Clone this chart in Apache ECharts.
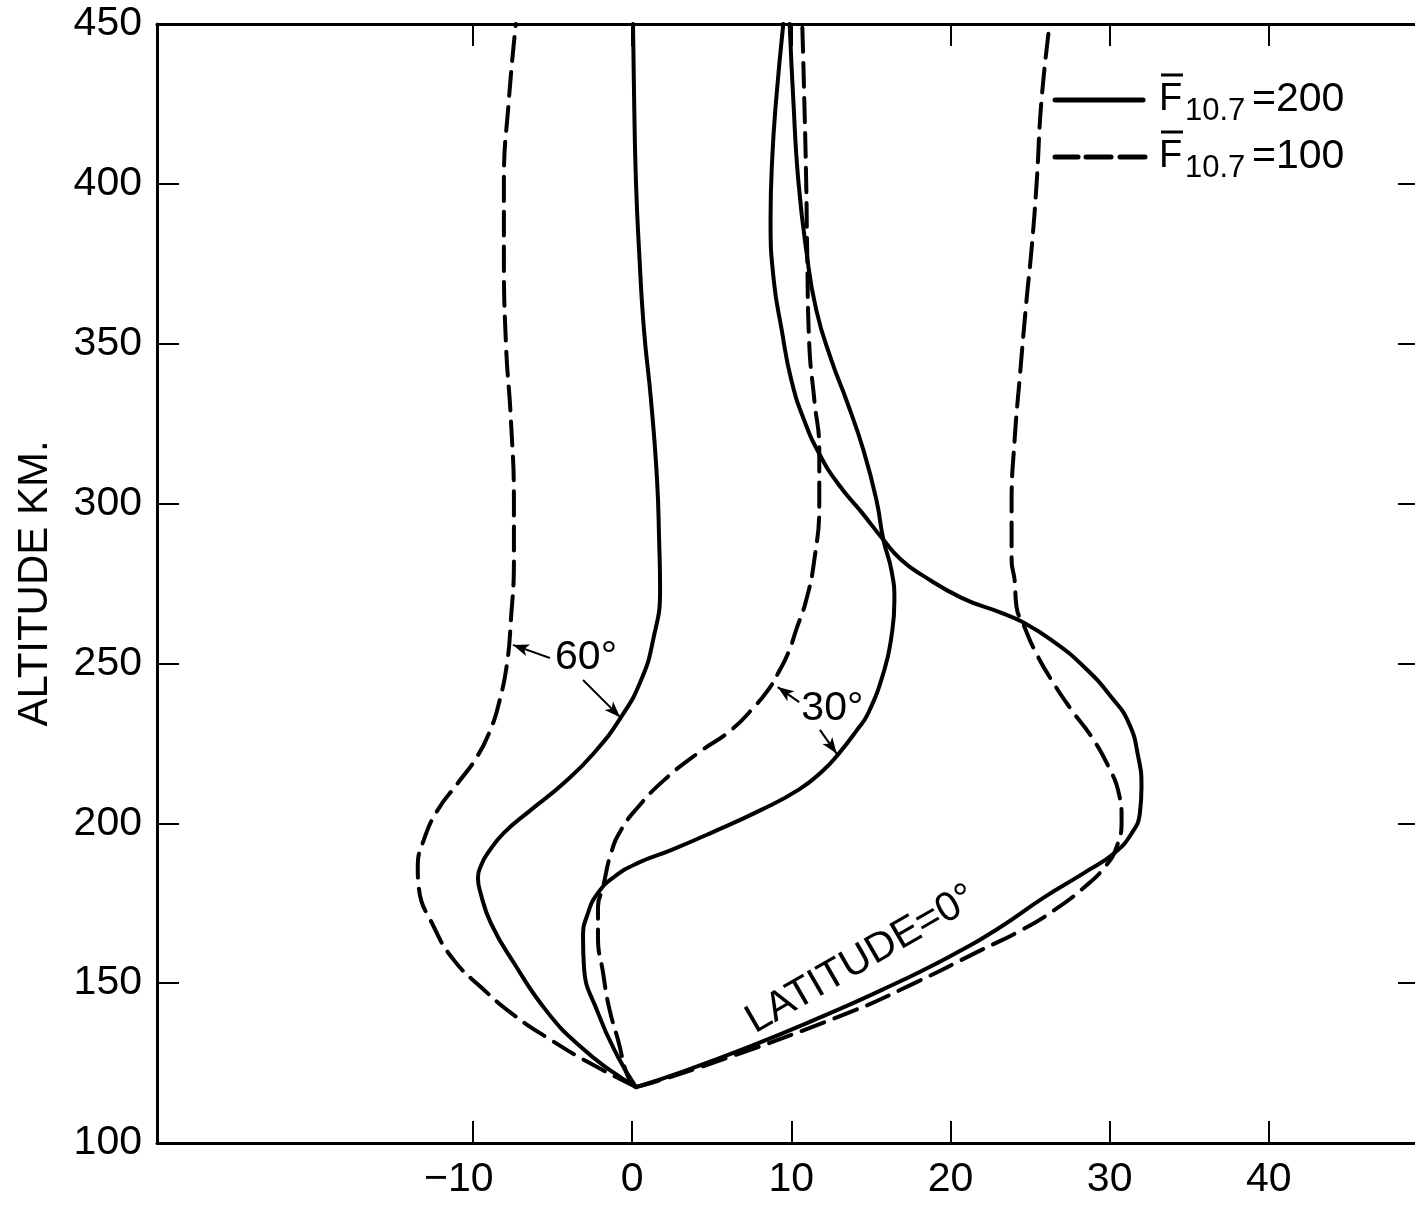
<!DOCTYPE html>
<html>
<head>
<meta charset="utf-8">
<script src="https://cdn.jsdelivr.net/npm/echarts@6/dist/echarts.min.js"></script>
<style>
  html, body { margin: 0; padding: 0; background: #fff; }
  #chart { width: 1415px; height: 1205px; }
</style>
</head>
<body>
<div id="chart"></div>
<script>
// Axis ticks and labels
const xTickValues = [-10, 0, 10, 20, 30, 40];
const xTopTickValues = [-10, 0, 10, 20, 30, 40];
const yLabelValues = [100, 150, 200, 250, 300, 350, 400, 450];
const yInnerTickValues = [150, 200, 250, 300, 350, 400];

// Profiles as [value, altitude km]; solid = F10.7 200, dashed = F10.7 100
const lat60Solid = [
  [0.25, 117.5], [-1.13, 121.9], [-3.21, 130.0], [-5.28, 140.7], [-7.42, 156.3],
  [-8.87, 168.8], [-9.55, 178.8], [-9.68, 183.0], [-9.45, 187.2], [-9.06, 190.7],
  [-8.05, 197.0], [-6.35, 204.2], [-4.28, 212.6], [-2.39, 222.0], [-0.69, 233.2],
  [0.57, 244.8], [1.32, 257.3], [1.76, 273.0], [1.70, 288.6], [1.57, 307.4],
  [1.19, 332.4], [0.75, 354.3], [0.44, 379.3], [0.25, 400.0], [0.13, 426.2], [0.06, 450.0]
];
const lat60Dashed = [
  [0.25, 117.5], [-2.77, 125.3], [-5.09, 132.2], [-7.42, 140.0], [-9.50, 148.8],
  [-11.19, 157.2], [-12.45, 167.6], [-13.40, 180.1], [-13.46, 186.3], [-13.08, 194.8],
  [-12.20, 204.2], [-10.94, 212.6], [-9.75, 220.7], [-8.90, 229.2], [-8.36, 237.6],
  [-7.86, 249.8], [-7.61, 263.6], [-7.42, 282.4], [-7.42, 299.9], [-7.61, 326.2],
  [-7.92, 349.9], [-8.05, 379.3], [-8.05, 400.0], [-7.74, 426.2], [-7.30, 450.0]
];
const lat30Solid = [
  [0.25, 117.5], [-0.88, 126.9], [-2.14, 140.7], [-3.02, 155.1], [-3.08, 164.4],
  [-2.77, 171.9], [-2.14, 178.2], [-1.13, 183.2], [0.38, 187.6], [2.45, 191.6],
  [4.97, 197.0], [8.11, 204.2], [10.50, 210.6], [12.00, 216.5], [13.10, 222.5],
  [14.10, 229.0], [14.84, 234.5], [15.85, 248.0], [16.29, 258.3], [16.48, 269.8],
  [16.29, 279.2], [15.79, 288.6], [15.35, 301.1], [14.53, 316.8], [13.46, 332.4],
  [12.52, 344.9], [11.57, 360.6], [10.94, 379.3], [10.44, 401.2], [10.13, 426.2], [9.90, 450.0]
];
const lat30Dashed = [
  [0.25, 117.5], [-0.25, 120.6], [-0.88, 132.2], [-1.45, 142.5], [-1.82, 153.2],
  [-2.14, 164.4], [-2.14, 173.8], [-1.82, 180.1], [-1.32, 190.7], [-0.69, 197.9],
  [0.38, 205.1], [2.01, 213.5], [4.15, 222.0], [6.23, 229.2], [7.67, 236.4],
  [8.55, 241.7], [9.18, 247.0], [9.81, 253.3], [10.31, 260.5], [10.94, 269.8],
  [11.45, 282.4], [11.76, 299.9], [11.76, 316.8], [11.45, 332.4], [11.13, 349.9],
  [11.00, 379.3], [10.94, 400.0], [10.82, 426.2], [10.69, 450.0]
];
const lat0Solid = [
  [0.25, 117.5], [3.10, 122.2], [7.30, 130.0], [11.45, 138.5], [15.70, 147.9],
  [19.90, 158.2], [23.10, 167.4], [25.90, 176.9], [28.40, 184.5], [30.30, 190.7],
  [31.40, 197.0], [31.90, 203.2], [32.00, 211.4], [31.80, 220.7], [31.20, 231.4],
  [30.10, 239.5], [28.40, 248.9], [26.35, 257.3], [24.50, 263.0], [23.20, 265.8],
  [20.70, 270.5], [18.20, 277.7], [16.90, 282.4], [15.80, 288.6], [14.40, 297.4],
  [13.00, 305.8], [11.80, 315.2], [10.80, 326.2], [10.00, 338.7], [9.40, 354.3],
  [8.90, 369.9], [8.70, 388.7], [8.80, 407.5], [9.05, 426.2], [9.50, 450.0]
];
const lat0Dashed = [
  [0.25, 117.5], [4.34, 123.8], [13.58, 140.7], [17.74, 150.0], [21.95, 160.4],
  [24.47, 166.6], [26.54, 172.9], [28.43, 180.1], [29.69, 186.3], [30.44, 192.6],
  [30.75, 201.0], [30.57, 209.5], [29.94, 217.6], [28.87, 227.0], [27.61, 235.4],
  [26.35, 244.8], [25.28, 254.2], [24.65, 261.4], [24.15, 267.7], [24.03, 276.1],
  [23.84, 282.4], [23.84, 299.9], [24.03, 319.9], [24.34, 338.7], [24.78, 363.7],
  [25.09, 379.3], [25.41, 400.0], [25.72, 426.2], [26.23, 450.0]
];

// Curve annotations (data coordinates)
const labelTexts = [
  { text: '60°', at: [-2.89, 251.7], rotate: 0 },
  { text: '30°', at: [12.58, 235.8], rotate: 0 },
  { text: 'LATITUDE=0°', at: [14.4, 157.4], rotate: 30 }
];
const arrowLines = [
  { from: [-5.16, 251.7], to: [-7.48, 255.8], curve: 0 },
  { from: [-3.08, 244.8], to: [-0.75, 233.2], curve: -0.25 },
  { from: [10.5, 237.9], to: [9.15, 242.6], curve: 0 },
  { from: [11.8, 229.2], to: [12.85, 221.8], curve: 0 }
];

const FONT = "'Liberation Sans', Arial, sans-serif";
const INK = '#000';
const DASH = [24, 11];

function profile(name, data, dashed) {
  return {
    name: name,
    type: 'line',
    data: data,
    xAxisIndex: 0,
    yAxisIndex: 0,
    showSymbol: false,
    symbol: 'none',
    smooth: 0.5,
    silent: true,
    lineStyle: { color: INK, width: 4, type: dashed ? DASH : 'solid', cap: 'round' },
    emphasis: { disabled: true }
  };
}

const series = [
  profile('60 solid', lat60Solid, false),
  profile('60 dashed', lat60Dashed, true),
  profile('30 solid', lat30Solid, false),
  profile('30 dashed', lat30Dashed, true),
  profile('0 solid', lat0Solid, false),
  profile('0 dashed', lat0Dashed, true)
];

series[0].markLine = {
  silent: true,
  animation: false,
  label: { show: false },
  emphasis: { disabled: true },
  lineStyle: { color: INK, width: 2, type: 'solid' },
  data: arrowLines.map(a => [
    { coord: a.from, symbol: 'none', lineStyle: { curveness: a.curve } },
    { coord: a.to, symbol: 'arrow', symbolSize: [9, 16] }
  ])
};

// The frame runs on past the right edge of the page, so the visible range
// stops just short of the right-hand axis line.
const X_MIN = -29.84, X_MAX = 49.18;

const option = {
  animation: false,
  backgroundColor: '#fff',
  grid: { left: 157, right: 0, top: 24, bottom: 62, containLabel: false, outerBoundsMode: 'none' },
  xAxis: [
    {
      type: 'value', position: 'bottom', min: X_MIN, max: X_MAX,
      axisLine: { show: true, onZero: false, lineStyle: { color: INK, width: 3 } },
      axisTick: { show: true, inside: true, length: 22, customValues: xTickValues,
                  lineStyle: { color: INK, width: 2 } },
      axisLabel: {
        show: true, customValues: xTickValues, margin: 16, color: INK,
        fontFamily: FONT, fontSize: 41,
        formatter: v => v < 0 ? '{neg|−' + Math.abs(v) + '}' : String(v),
        rich: { neg: { fontFamily: FONT, fontSize: 41, color: INK, padding: [0, 28, 0, 0] } }
      },
      splitLine: { show: false }
    },
    {
      type: 'value', position: 'top', min: X_MIN, max: X_MAX,
      axisLine: { show: true, onZero: false, lineStyle: { color: INK, width: 3 } },
      axisTick: { show: true, inside: true, length: 22, customValues: xTopTickValues,
                  lineStyle: { color: INK, width: 2 } },
      axisLabel: { show: false },
      splitLine: { show: false }
    }
  ],
  yAxis: [
    {
      type: 'value', position: 'left', min: 100, max: 450, interval: 50,
      name: 'ALTITUDE KM.', nameLocation: 'middle', nameGap: 101,
      nameTextStyle: { fontFamily: FONT, fontSize: 42, color: INK },
      axisLine: { show: true, onZero: false, lineStyle: { color: INK, width: 3 } },
      axisTick: { show: true, inside: true, length: 22, customValues: yInnerTickValues,
                  lineStyle: { color: INK, width: 2 } },
      axisLabel: { show: true, customValues: yLabelValues, margin: 15, color: INK,
                   fontFamily: FONT, fontSize: 41 },
      splitLine: { show: false }
    },
    {
      type: 'value', position: 'right', min: 100, max: 450, interval: 50,
      axisLine: { show: false, onZero: false },
      axisTick: { show: true, inside: true, length: 17, customValues: yInnerTickValues,
                  lineStyle: { color: INK, width: 2 } },
      axisLabel: { show: false },
      splitLine: { show: false }
    }
  ],
  series: series
};

const chart = echarts.init(document.getElementById('chart'), null, { renderer: 'canvas' });
chart.setOption(option);

// Legend block (top right) and curve labels
function legendRow(y, dashed, valueText) {
  const els = [];
  if (dashed) {
    [[1055, 1078], [1086, 1111], [1120, 1145]].forEach(d => {
      els.push({ type: 'line', shape: { x1: d[0], y1: y, x2: d[1], y2: y },
                 style: { stroke: INK, lineWidth: 5, lineCap: 'round' } });
    });
  } else {
    els.push({ type: 'line', shape: { x1: 1055, y1: y, x2: 1143, y2: y },
               style: { stroke: INK, lineWidth: 5, lineCap: 'round' } });
  }
  els.push({ type: 'line', shape: { x1: 1161, y1: y - 25, x2: 1183, y2: y - 25 },
             style: { stroke: INK, lineWidth: 3 } });
  els.push({ type: 'text', x: 1159, y: y, style: { text: 'F', fill: INK,
             font: '38px ' + FONT, textAlign: 'left', textVerticalAlign: 'middle' } });
  els.push({ type: 'text', x: 1185, y: y + 11, style: { text: '10.7', fill: INK,
             font: '31px ' + FONT, textAlign: 'left', textVerticalAlign: 'middle' } });
  els.push({ type: 'text', x: 1252, y: y, style: { text: valueText, fill: INK,
             font: '41px ' + FONT, textAlign: 'left', textVerticalAlign: 'middle' } });
  return els;
}

const graphics = [].concat(legendRow(100, false, '=200'), legendRow(157, true, '=100'));
labelTexts.forEach(l => {
  const p = chart.convertToPixel({ seriesIndex: 0 }, l.at);
  graphics.push({
    type: 'text', x: p[0], y: p[1], rotation: l.rotate * Math.PI / 180,
    style: { text: l.text, fill: INK, font: '41px ' + FONT,
             textAlign: 'center', textVerticalAlign: 'middle' }
  });
});

chart.setOption({ graphic: { elements: graphics } });
</script>
</body>
</html>
